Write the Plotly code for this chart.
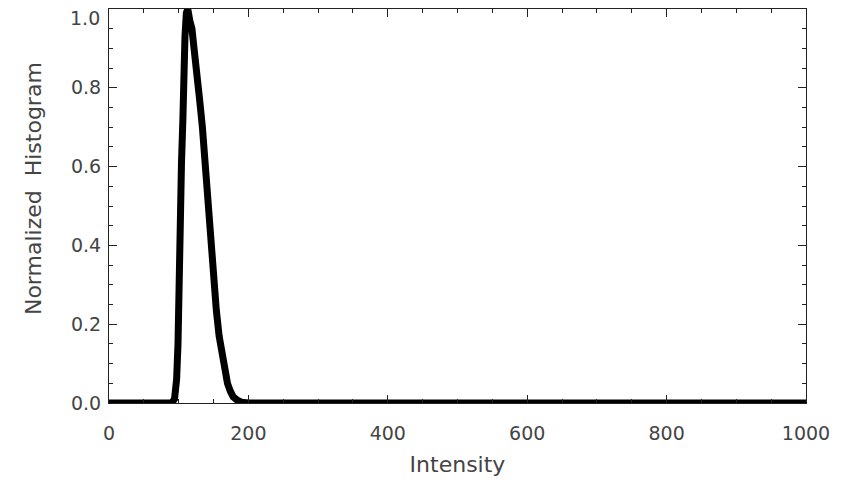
import plotly.graph_objects as go

intensity = [0, 90, 94, 97, 99, 100, 102, 103, 104, 106, 107, 109, 111, 113, 116, 119, 122, 126,
             130, 134, 138, 142, 146, 150, 154, 158, 162, 166, 170, 174, 178, 184, 190, 200, 1000]
norm_hist = [0, 0, 0.01, 0.06, 0.15, 0.29, 0.42, 0.49, 0.61, 0.72, 0.84, 0.93, 0.99, 1.0, 0.97, 0.95,
             0.90, 0.85, 0.77, 0.70, 0.60, 0.50, 0.40, 0.32, 0.235, 0.17, 0.12, 0.08, 0.05, 0.03,
             0.016, 0.007, 0.002, 0, 0]

x_ticks = [0, 200, 400, 600, 800, 1000]
y_ticks = [0.0, 0.2, 0.4, 0.6, 0.8, 1.0]
y_labels = ["0.0", "0.2", "0.4", "0.6", "0.8", ""]
top_label = "1.0"
x_title = "Intensity"
y_title = "Normalized  Histogram"

fig = go.Figure()
fig.add_trace(go.Scatter(x=intensity, y=norm_hist, mode="lines",
                         line=dict(color="black", width=7), cliponaxis=True))

tick_font = dict(family="DejaVu Sans", size=19, color="#444444")
title_font = dict(family="DejaVu Sans", size=22, color="#444444")
fig.update_layout(
    width=848, height=475,
    margin=dict(l=101, r=50, t=1, b=80, autoexpand=False),
    paper_bgcolor="white", plot_bgcolor="white",
    showlegend=False,
    font=tick_font,
    xaxis=dict(range=[0, 1000], tickvals=x_ticks, ticktext=[str(v) for v in x_ticks],
               ticks="inside", ticklen=8, tickcolor="#222", tickwidth=1,
               showline=True, linecolor="#222", linewidth=1, mirror="allticks",
               showgrid=False, zeroline=False, automargin=False,
               ticklabelstandoff=13,
               minor=dict(dtick=50, ticks="inside", ticklen=4, tickcolor="#222", showgrid=False),
               title=dict(text=x_title, font=title_font, standoff=13),
               tickfont=tick_font),
    yaxis=dict(range=[0, 1.0], tickvals=y_ticks, ticktext=y_labels,
               ticks="inside", ticklen=8, tickcolor="#222", tickwidth=1,
               showline=True, linecolor="#222", linewidth=1, mirror="allticks",
               showgrid=False, zeroline=False, automargin=False,
               ticklabelstandoff=3,
               minor=dict(dtick=0.05, ticks="inside", ticklen=4, tickcolor="#222", showgrid=False),
               tickfont=tick_font),
    annotations=[
        dict(text=top_label, xref="paper", yref="paper", x=0, y=1.0,
             xanchor="right", yanchor="top", xshift=-7, yshift=4,
             showarrow=False, font=tick_font),
        dict(text=y_title, xref="paper", yref="paper", x=0, y=0.543,
             xanchor="center", yanchor="middle", xshift=-76, textangle=-90,
             showarrow=False, font=title_font),
    ],
)

fig.write_html("out.html")
